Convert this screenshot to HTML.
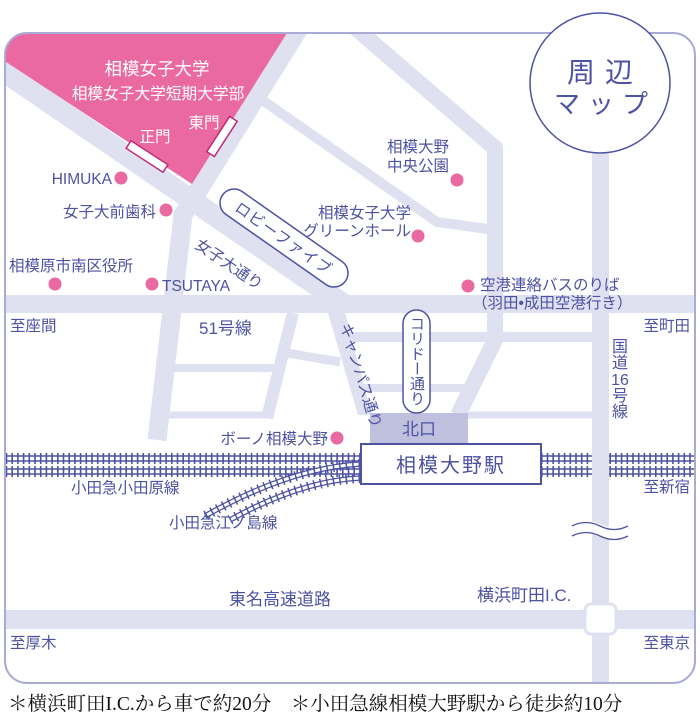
<!DOCTYPE html>
<html><head><meta charset="utf-8"><style>
html,body{margin:0;padding:0;background:#fff;}
svg{display:block;}
text{font-family:"Liberation Sans","Noto Sans CJK JP",sans-serif;fill:#4d52a3;}
</style></head><body>
<svg width="700" height="724" viewBox="0 0 700 724" xmlns="http://www.w3.org/2000/svg">
<defs><clipPath id="fr"><rect x="5" y="33" width="690" height="650" rx="22"/></clipPath></defs>
<g clip-path="url(#fr)">
<rect x="0" y="0" width="700" height="724" fill="#fff"/>
<g fill="#dfe0f0" stroke="#dfe0f0">
<rect x="0" y="295" width="700" height="18" stroke="none"/>
<rect x="0" y="610" width="700" height="19" stroke="none"/>
<line x1="0" y1="69" x2="345" y2="305" stroke-width="21" fill="none"/>
<polygon points="328,313 345,313 372,415 358,415" stroke="none"/>
<polyline points="301,25 183,215 157,440" stroke-width="19" fill="none"/>
<polyline points="352,25 495,148 495,340 458,415" stroke-width="16" fill="none" stroke-linejoin="round"/>
<polyline points="255,95 437,222 495,230" stroke-width="10" fill="none"/>
<line x1="293" y1="313" x2="267" y2="418" stroke-width="12"/>
<line x1="165" y1="368" x2="282" y2="368" stroke-width="8"/>
<line x1="160" y1="415" x2="268" y2="415" stroke-width="7"/>
<line x1="287" y1="353" x2="340" y2="362" stroke-width="9"/>
<line x1="345" y1="337" x2="600" y2="337" stroke-width="10"/>
<line x1="355" y1="388" x2="478" y2="388" stroke-width="8"/>
<line x1="465" y1="415" x2="600" y2="415" stroke-width="7"/>
</g>
<polygon points="0,58 0,25 292,25 192,184" fill="#ea69a1"/>
<rect x="125" y="152" width="44" height="9" fill="#fff" stroke="#c02a78" stroke-width="1.5" transform="rotate(33 147 156.5)"/>
<rect x="201" y="132" width="42" height="9" fill="#fff" stroke="#c02a78" stroke-width="1.5" transform="rotate(-57 222 136.5)"/>
<g fill="none">
<path d="M0,458.5H361M541,458.5H700" stroke="#4d52a3" stroke-width="6.5"/>
<path d="M0,458.5H361M541,458.5H700" stroke="#fff" stroke-width="3.5"/>
<path d="M0,458.5H361M541,458.5H700" stroke="#4d52a3" stroke-width="11" stroke-dasharray="1.6 4.1"/>
<path d="M0,471.5H361M541,471.5H700" stroke="#4d52a3" stroke-width="6.5"/>
<path d="M0,471.5H361M541,471.5H700" stroke="#fff" stroke-width="3.5"/>
<path d="M0,471.5H361M541,471.5H700" stroke="#4d52a3" stroke-width="11" stroke-dasharray="1.6 4.1"/>
<path d="M360,464 Q290,468 205,516" stroke="#4d52a3" stroke-width="5.5"/>
<path d="M360,464 Q290,468 205,516" stroke="#fff" stroke-width="3"/>
<path d="M360,464 Q290,468 205,516" stroke="#4d52a3" stroke-width="10" stroke-dasharray="1.5 5"/>
<path d="M360,478 Q300,481 230,520" stroke="#4d52a3" stroke-width="5.5"/>
<path d="M360,478 Q300,481 230,520" stroke="#fff" stroke-width="3"/>
<path d="M360,478 Q300,481 230,520" stroke="#4d52a3" stroke-width="10" stroke-dasharray="1.5 5"/>
</g>
<rect x="592" y="140" width="17" height="560" fill="#dfe0f0"/>
<path d="M570,530 q14,-7 29,0 t29,0" stroke="#fff" stroke-width="12" fill="none"/>
<path d="M572,526 q14,-7 28,0 t28,0 M572,536 q14,-7 28,0 t28,0" stroke="#4d52a3" stroke-width="1.3" fill="none"/>
<rect x="585" y="604" width="31" height="30" rx="6" fill="#fff" stroke="#dfe0f0" stroke-width="3"/>
<rect x="370" y="413" width="98" height="31" fill="#bfc0de"/>
<text x="419" y="435" font-size="17" text-anchor="middle">北口</text>
<rect x="361" y="444" width="180" height="40" fill="#fff" stroke="#4d52a3" stroke-width="2"/>
<text x="451" y="472" font-size="20" text-anchor="middle" letter-spacing="2">相模大野駅</text>
</g>
<rect x="5" y="33" width="690" height="650" rx="22" fill="none" stroke="#a9aad6" stroke-width="2"/>
<circle cx="600" cy="83" r="70" fill="#fff" stroke="#4d52a3" stroke-width="1.5"/>
<text x="605" y="82" font-size="28" text-anchor="middle" letter-spacing="10">周辺</text>
<text x="605" y="113" font-size="26" text-anchor="middle" letter-spacing="8">マップ</text>
<g transform="rotate(35 284 238)">
<rect x="209" y="224" width="150" height="28" rx="14" fill="#fff" stroke="#4d52a3" stroke-width="1.5"/>
<text x="284" y="244" font-size="15.5" text-anchor="middle" letter-spacing="1">ロビーファイブ</text>
</g>
<rect x="403" y="310" width="27" height="103" rx="13.5" fill="#fff" stroke="#4d52a3" stroke-width="1.5"/>
<text x="416.5" y="316" font-size="15" style="writing-mode:vertical-rl">コリドー通り</text>
<g text-anchor="middle">
<text x="157" y="75" font-size="17.5" style="fill:#fff">相模女子大学</text>
<text x="158" y="99" font-size="15.7" style="fill:#fff">相模女子大学短期大学部</text>
<text x="155" y="142" font-size="15.5" style="fill:#fff">正門</text>
<text x="204" y="128" font-size="15.5" style="fill:#fff">東門</text>
</g>
<g fill="#ea69a1">
<circle cx="121" cy="178" r="6.5"/><circle cx="166" cy="210" r="6.5"/>
<circle cx="55" cy="284" r="6.5"/><circle cx="152" cy="284" r="6.5"/>
<circle cx="457" cy="180" r="6.5"/><circle cx="418" cy="236" r="6.5"/>
<circle cx="468" cy="286" r="6.5"/><circle cx="337" cy="438" r="6.5"/>
</g>
<g font-size="15.5">
<text x="112" y="184" text-anchor="end">HIMUKA</text>
<text x="156" y="217" text-anchor="end">女子大前歯科</text>
<text x="9" y="271">相模原市南区役所</text>
<text x="162" y="291">TSUTAYA</text>
<text x="387" y="152">相模大野</text>
<text x="387" y="171">中央公園</text>
<text x="411" y="218" text-anchor="end">相模女子大学</text>
<text x="411" y="236" text-anchor="end">グリーンホール</text>
<text x="480" y="290">空港連絡バスのりば</text>
<text x="472" y="308">（羽田•成田空港行き）</text>
<text x="328" y="444" text-anchor="end">ボーノ相模大野</text>
<text x="10" y="331">至座間</text>
<text x="199" y="334" font-size="17">51号線</text>
<text x="690" y="331" text-anchor="end">至町田</text>
<text x="690" y="492" text-anchor="end">至新宿</text>
<text x="71" y="493">小田急小田原線</text>
<text x="169" y="528">小田急江ノ島線</text>
<text x="229" y="605" font-size="17">東名高速道路</text>
<text x="477" y="601" font-size="17">横浜町田I.C.</text>
<text x="10" y="648">至厚木</text>
<text x="690" y="648" text-anchor="end">至東京</text>
<text x="620" y="352" text-anchor="middle" font-size="16">国</text>
<text x="620" y="368" text-anchor="middle" font-size="16">道</text>
<text x="620" y="385" text-anchor="middle" font-size="16">16</text>
<text x="620" y="401" text-anchor="middle" font-size="16">号</text>
<text x="620" y="417" text-anchor="middle" font-size="16">線</text>
<text x="0" y="0" transform="translate(194,247) rotate(34)">女子大通り</text>
<text x="0" y="0" transform="translate(340,325) rotate(73)">キャンパス通り</text>
</g>
<text x="8" y="710" font-size="19.5" style="fill:#111;font-family:'Liberation Serif','Noto Serif CJK SC',serif">＊横浜町田I.C.から車で約20分　＊小田急線相模大野駅から徒歩約10分</text>
</svg>
</body></html>
